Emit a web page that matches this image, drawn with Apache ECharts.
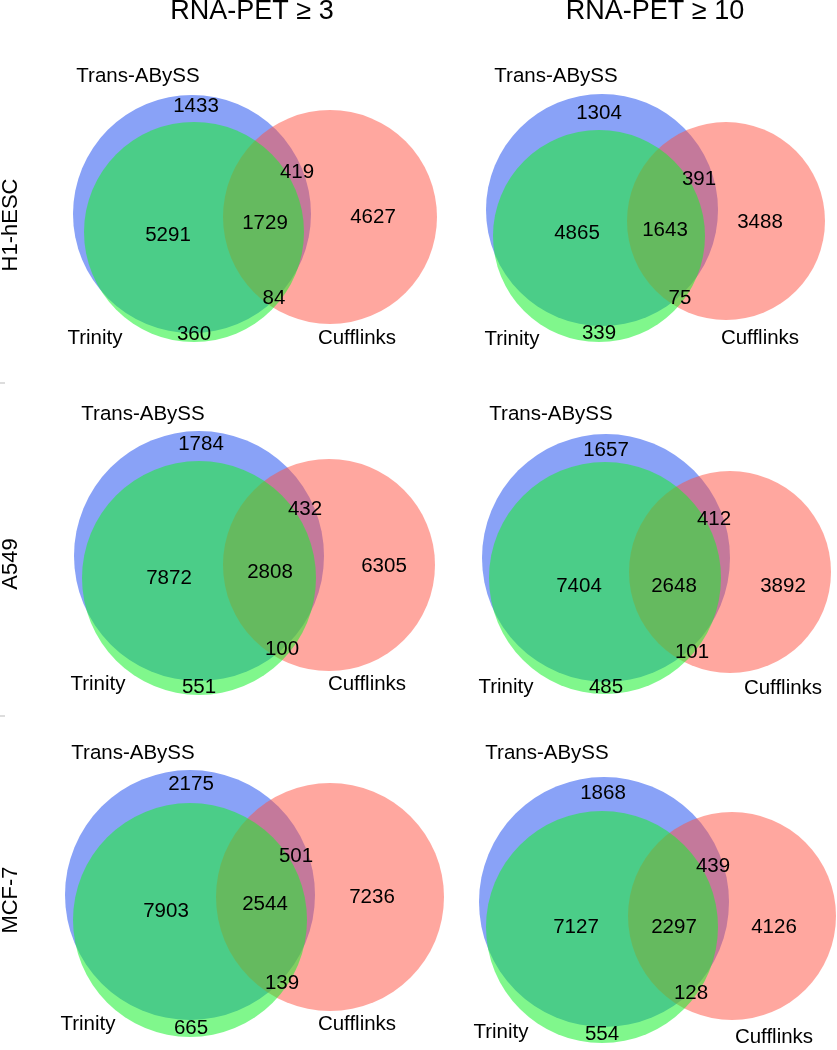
<!DOCTYPE html>
<html>
<head>
<meta charset="utf-8">
<script src="https://cdn.jsdelivr.net/npm/echarts@6/dist/echarts.min.js"></script>
<style>
html,body{margin:0;padding:0;background:#fff;}
#chart{width:837px;height:1050px;}
</style>
</head>
<body>
<div id="chart"></div>
<script>
// ---------------- DATA ----------------
const columnTitles = ['RNA-PET \u2265 3', 'RNA-PET \u2265 10'];
const cellLines = ['H1-hESC', 'A549', 'MCF-7'];
const setNames = ['Trans-ABySS', 'Trinity', 'Cufflinks'];
// panels in row-major order: H1 >=3, H1 >=10, A549 >=3, A549 >=10, MCF-7 >=3, MCF-7 >=10
const transOnly    = [1433, 1304, 1784, 1657, 2175, 1868];
const transTrinity = [5291, 4865, 7872, 7404, 7903, 7127];
const trinityOnly  = [360, 339, 551, 485, 665, 554];
const allThree     = [1729, 1643, 2808, 2648, 2544, 2297];
const transCuff    = [419, 391, 432, 412, 501, 439];
const trinityCuff  = [84, 75, 100, 101, 139, 128];
const cuffOnly     = [4627, 3488, 6305, 3892, 7236, 4126];

// ---------------- LAYOUT (geometry, in page units) ----------------
// circles per panel: [cx, cy, r] for Trans-ABySS, Trinity, Cufflinks
const circleLayout = [
  [[192, 214, 119], [194, 232, 110], [330, 217, 107]],
  [[602, 210, 116], [599, 236, 106], [726, 221, 99]],
  [[199, 556, 125], [199, 578, 117], [329, 565, 106]],
  [[606, 558, 124], [605, 578, 116], [730, 572, 101]],
  [[190, 895, 125], [190, 920, 117], [330, 897, 114]],
  [[604, 902, 125], [602, 927, 116], [732, 916, 104]]
];
// count label anchor per panel, order: transOnly, transTrinity, trinityOnly, allThree, transCuff, trinityCuff, cuffOnly
const countLayout = [
  [[196,106],[168,235],[194,334],[265,223],[297,172],[274,298],[373,217]],
  [[599,113],[577,233],[599,333],[665,230],[699,179],[680,298],[760,222]],
  [[201,444],[169,578],[199,687],[270,572],[305,509],[282,649],[384,566]],
  [[606,450],[579,586],[606,687],[674,586],[714,519],[692,652],[783,586]],
  [[191,784],[166,911],[191,1028],[265,904],[296,856],[282,983],[372,897]],
  [[603,793],[576,927],[602,1034],[674,927],[713,866],[691,993],[774,927]]
];
// set-name anchors per panel: Trans-ABySS, Trinity, Cufflinks
const nameLayout = [
  [[138,76],[95,338],[357,338]],
  [[556,76],[512,339],[760,338]],
  [[143,414],[98,684],[367,684]],
  [[551,414],[506,687],[783,688]],
  [[133,753],[88,1024],[357,1024]],
  [[547,753],[501,1032],[774,1037]]
];
const titleLayout = [[252, 12], [655, 12]];
const rowLabelLayout = [[11, 225], [11, 564], [11, 900]];

const circleColors = ['rgb(137,162,247)', 'rgba(24,240,45,0.55)', 'rgba(255,80,64,0.5)'];
const FONT = '"Liberation Sans", Arial, Helvetica, sans-serif';

// ---------------- BUILD ----------------
const regionArrays = [transOnly, transTrinity, trinityOnly, allThree, transCuff, trinityCuff, cuffOnly];

function circleData(setIdx) {
  return circleLayout.map(p => p[setIdx].slice());
}
function circleSeries(setIdx) {
  return {
    type: 'custom',
    coordinateSystem: 'cartesian2d',
    silent: true,
    data: circleData(setIdx),
    encode: { x: 0, y: 1 },
    renderItem: function (params, api) {
      const c = api.coord([api.value(0), api.value(1)]);
      const r = api.size([api.value(2), 0])[0];
      return {
        type: 'circle',
        shape: { cx: c[0], cy: c[1], r: r },
        style: { fill: circleColors[setIdx], stroke: null }
      };
    }
  };
}

const countData = [];
countLayout.forEach((pos, p) => {
  pos.forEach((xy, k) => {
    countData.push([xy[0], xy[1], regionArrays[k][p]]);
  });
});
const nameData = [];
nameLayout.forEach((pos) => {
  pos.forEach((xy, k) => nameData.push([xy[0], xy[1], k]));
});

function textSeries(data, textFn, size) {
  return {
    type: 'custom',
    coordinateSystem: 'cartesian2d',
    silent: true,
    data: data,
    encode: { x: 0, y: 1 },
    z: 10,
    renderItem: function (params, api) {
      const c = api.coord([api.value(0), api.value(1)]);
      return {
        type: 'text',
        x: c[0], y: c[1],
        style: {
          text: textFn(api.value(2)),
          x: 0, y: 0,
          fill: '#000',
          font: size + 'px ' + FONT,
          align: 'center',
          verticalAlign: 'middle'
        }
      };
    }
  };
}

const graphics = [];
columnTitles.forEach((t, i) => {
  graphics.push({
    type: 'text', x: titleLayout[i][0], y: titleLayout[i][1],
    style: { text: t, font: '27px ' + FONT, fill: '#000', align: 'center', verticalAlign: 'middle' }
  });
});
cellLines.forEach((t, i) => {
  graphics.push({
    type: 'text', x: rowLabelLayout[i][0], y: rowLabelLayout[i][1], rotation: Math.PI / 2,
    style: { text: t, font: '22px ' + FONT, fill: '#000', align: 'center', verticalAlign: 'middle' }
  });
});
// small separator ticks at left margin
[383, 716].forEach(y => graphics.push({
  type: 'line', shape: { x1: 0, y1: y, x2: 5, y2: y }, style: { stroke: '#bbb', lineWidth: 1 }
}));

const chart = echarts.init(document.getElementById('chart'), null, { renderer: 'canvas' });
chart.setOption({
  animation: false,
  backgroundColor: '#fff',
  grid: { left: 0, right: 0, top: 0, bottom: 0 },
  xAxis: { type: 'value', min: 0, max: 837, show: false },
  yAxis: { type: 'value', min: 0, max: 1050, inverse: true, show: false },
  graphic: graphics,
  series: [
    circleSeries(0),
    circleSeries(2),
    circleSeries(1),
    textSeries(countData, v => String(v), 20.5),
    textSeries(nameData, k => setNames[k], 20.5)
  ]
});
</script>
</body>
</html>
